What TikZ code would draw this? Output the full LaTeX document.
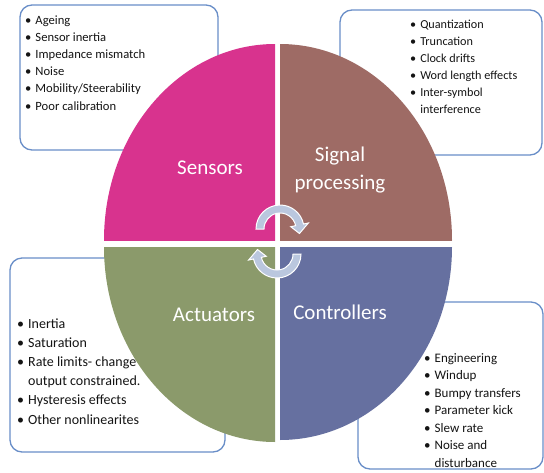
\documentclass[tikz,border=0pt]{standalone}
\usepackage{fontspec}
\setmainfont{Carlito}
\usetikzlibrary{calc}
\definecolor{pinkq}{RGB}{216,51,142}
\definecolor{brownq}{RGB}{158,107,101}
\definecolor{oliveq}{RGB}{139,154,107}
\definecolor{blueq}{RGB}{102,112,160}
\definecolor{boxc}{RGB}{105,142,200}
\definecolor{arrowc}{RGB}{186,199,222}
\definecolor{textc}{RGB}{20,20,20}
\begin{document}
\begin{tikzpicture}[x=1pt,y=-1pt,
  listbox/.style={draw=boxc, line width=1.3pt, rounded corners=12pt, fill=white, inner sep=0pt},
  listtext/.style={anchor=base west, inner sep=0pt, text=textc},
  qlabel/.style={text=white, font=\fontsize{21}{28}\selectfont, align=center, inner sep=0pt},
  cyc/.style={fill=arrowc, draw=white, line width=1pt}]
\useasboundingbox (0,0) rectangle (544,472);
% list boxes (behind)
\node[listbox, minimum width=198pt, minimum height=145pt] (sbox) at (119,77.5) {};
\node[listbox, minimum width=202pt, minimum height=145pt] (pbox) at (441,82.5) {};
\node[listbox, minimum width=215pt, minimum height=194pt] (abox) at (117.5,355) {};
\node[listbox, minimum width=185pt, minimum height=167pt] (cbox) at (450.5,385.5) {};
% quadrants
\begin{scope}
  \clip (275,240) rectangle (90,30);
  \fill[pinkq] (275,240) ellipse [x radius=171, y radius=196];
\end{scope}
\begin{scope}
  \clip (280,240) rectangle (470,30);
  \fill[brownq] (280,240) ellipse [x radius=172, y radius=196];
\end{scope}
\begin{scope}
  \clip (275,247) rectangle (90,460);
  \fill[oliveq] (275,247) ellipse [x radius=171, y radius=195];
\end{scope}
\begin{scope}
  \clip (280,247) rectangle (470,460);
  \fill[blueq] (280,247) ellipse [x radius=172, y radius=193];
\end{scope}
% cycle arrows
\coordinate (c1) at (280,229);
\coordinate (c2) at (277,254);
\path[cyc] ($(c1)+(180:24)$) arc[start angle=180, end angle=348, radius=24]
  -- ($(c1)+(348:29)$) -- ($(c1)+(373:20)$) -- ($(c1)+(348:11)$) -- ($(c1)+(348:16)$)
  arc[start angle=348, end angle=180, radius=16] -- cycle;
\path[cyc] ($(c2)+(0:24)$) arc[start angle=0, end angle=168, radius=24]
  -- ($(c2)+(168:29)$) -- ($(c2)+(193:20)$) -- ($(c2)+(168:11)$) -- ($(c2)+(168:16)$)
  arc[start angle=168, end angle=0, radius=16] -- cycle;
% quadrant labels
\node[qlabel] (sensl) at (210,168) {Sensors};
\node[qlabel] (procl) at (340,170) {Signal\\processing};
\node[qlabel] (actl) at (214,315) {Actuators};
\node[qlabel] (ctrll) at (340,312) {Controllers};
% lists
\node[listtext, font=\fontsize{12.6}{17.2}\selectfont] (stext) at (25,24)
 {\begin{tabular}[t]{@{}l@{\hspace{4pt}}l@{}}
  • & Ageing\\ • & Sensor inertia\\ • & Impedance mismatch\\ • & Noise\\
  • & Mobility/Steerability\\ • & Poor calibration
 \end{tabular}};
\node[listtext, font=\fontsize{12.2}{17}\selectfont] (ptext) at (410,28)
 {\begin{tabular}[t]{@{}l@{\hspace{4pt}}l@{}}
  • & Quantization\\ • & Truncation\\ • & Clock drifts\\ • & Word length effects\\
  • & Inter-symbol\\ & interference
 \end{tabular}};
\node[listtext, font=\fontsize{14}{19.2}\selectfont] (atext) at (17,328)
 {\begin{tabular}[t]{@{}l@{\hspace{4pt}}l@{}}
  • & Inertia\\ • & Saturation\\ • & Rate limits- change\\ & output constrained.\\
  • & Hysteresis effects\\ • & Other nonlinearites
 \end{tabular}};
\node[listtext, font=\fontsize{13}{17.5}\selectfont] (ctext) at (424,362)
 {\begin{tabular}[t]{@{}l@{\hspace{4pt}}l@{}}
  • & Engineering\\ • & Windup\\ • & Bumpy transfers\\ • & Parameter kick\\
  • & Slew rate\\ • & Noise and\\ & disturbance
 \end{tabular}};
\end{tikzpicture}
\end{document}
